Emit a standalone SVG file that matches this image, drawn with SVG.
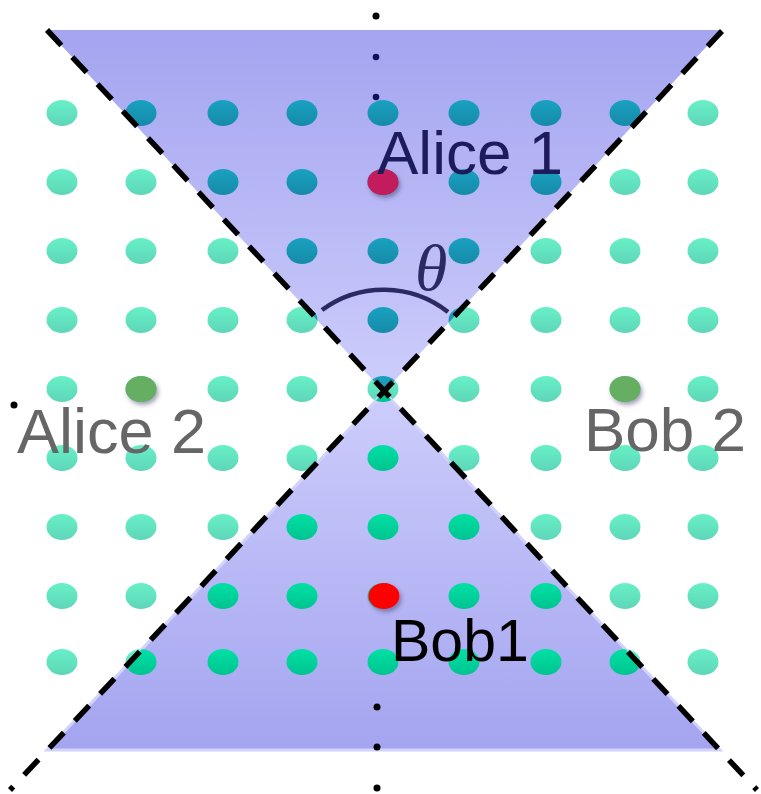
<svg xmlns="http://www.w3.org/2000/svg" xmlns:xlink="http://www.w3.org/1999/xlink" width="761" height="794" viewBox="0 0 761 794">
<style>
.lbl{font-family:"Liberation Sans",Arial,sans-serif;font-size:62px}
.dash{fill:none;stroke:#000;stroke-width:5.5;stroke-dasharray:21 16}
.pt{stroke:none}
</style>
<defs>
<linearGradient id="gUp" x1="0" y1="30" x2="0" y2="392" gradientUnits="userSpaceOnUse"><stop offset="0" stop-color="#a4a4f0"/><stop offset="1" stop-color="#cdcdfc"/></linearGradient>
<linearGradient id="gDown" x1="0" y1="392" x2="0" y2="750" gradientUnits="userSpaceOnUse"><stop offset="0" stop-color="#cdcdfc"/><stop offset="1" stop-color="#a4a4f0"/></linearGradient>
<linearGradient id="mint" x1="0" y1="0" x2="0" y2="1"><stop offset="0" stop-color="#68f0c8"/><stop offset="1" stop-color="#5ed6b8"/></linearGradient>
<linearGradient id="teal" x1="0" y1="0" x2="0" y2="1"><stop offset="0" stop-color="#18a2c0"/><stop offset="1" stop-color="#168aa8"/></linearGradient>
<linearGradient id="green" x1="0" y1="0" x2="0" y2="1"><stop offset="0" stop-color="#00e0a4"/><stop offset="1" stop-color="#00c490"/></linearGradient>
<clipPath id="cUp"><polygon points="47,30 722,30 384,392"/></clipPath>
<clipPath id="cDown"><polygon points="384,392 720,750 47,750"/></clipPath>
<filter id="sh" x="-50%" y="-50%" width="200%" height="200%"><feDropShadow dx="2" dy="3" stdDeviation="2" flood-color="#303060" flood-opacity="0.45"/></filter>
<g id="dots">
<ellipse cx="62" cy="113" rx="15.5" ry="13"/><ellipse cx="141" cy="113" rx="15.5" ry="13"/><ellipse cx="223" cy="113" rx="15.5" ry="13"/><ellipse cx="302" cy="113" rx="15.5" ry="13"/><ellipse cx="383" cy="113" rx="15.5" ry="13"/><ellipse cx="464" cy="113" rx="15.5" ry="13"/><ellipse cx="546" cy="113" rx="15.5" ry="13"/><ellipse cx="625" cy="113" rx="15.5" ry="13"/><ellipse cx="703" cy="113" rx="15.5" ry="13"/>
<ellipse cx="62" cy="182" rx="15.5" ry="13"/><ellipse cx="141" cy="182" rx="15.5" ry="13"/><ellipse cx="223" cy="182" rx="15.5" ry="13"/><ellipse cx="302" cy="182" rx="15.5" ry="13"/><ellipse cx="383" cy="182" rx="15.5" ry="13"/><ellipse cx="464" cy="182" rx="15.5" ry="13"/><ellipse cx="546" cy="182" rx="15.5" ry="13"/><ellipse cx="625" cy="182" rx="15.5" ry="13"/><ellipse cx="703" cy="182" rx="15.5" ry="13"/>
<ellipse cx="62" cy="251" rx="15.5" ry="13"/><ellipse cx="141" cy="251" rx="15.5" ry="13"/><ellipse cx="223" cy="251" rx="15.5" ry="13"/><ellipse cx="302" cy="251" rx="15.5" ry="13"/><ellipse cx="383" cy="251" rx="15.5" ry="13"/><ellipse cx="464" cy="251" rx="15.5" ry="13"/><ellipse cx="546" cy="251" rx="15.5" ry="13"/><ellipse cx="625" cy="251" rx="15.5" ry="13"/><ellipse cx="703" cy="251" rx="15.5" ry="13"/>
<ellipse cx="62" cy="320" rx="15.5" ry="13"/><ellipse cx="141" cy="320" rx="15.5" ry="13"/><ellipse cx="223" cy="320" rx="15.5" ry="13"/><ellipse cx="302" cy="320" rx="15.5" ry="13"/><ellipse cx="383" cy="320" rx="15.5" ry="13"/><ellipse cx="464" cy="320" rx="15.5" ry="13"/><ellipse cx="546" cy="320" rx="15.5" ry="13"/><ellipse cx="625" cy="320" rx="15.5" ry="13"/><ellipse cx="703" cy="320" rx="15.5" ry="13"/>
<ellipse cx="62" cy="389" rx="15.5" ry="13"/><ellipse cx="141" cy="389" rx="15.5" ry="13"/><ellipse cx="223" cy="389" rx="15.5" ry="13"/><ellipse cx="302" cy="389" rx="15.5" ry="13"/><ellipse cx="383" cy="389" rx="15.5" ry="13"/><ellipse cx="464" cy="389" rx="15.5" ry="13"/><ellipse cx="546" cy="389" rx="15.5" ry="13"/><ellipse cx="625" cy="389" rx="15.5" ry="13"/><ellipse cx="703" cy="389" rx="15.5" ry="13"/>
<ellipse cx="62" cy="458" rx="15.5" ry="13"/><ellipse cx="141" cy="458" rx="15.5" ry="13"/><ellipse cx="223" cy="458" rx="15.5" ry="13"/><ellipse cx="302" cy="458" rx="15.5" ry="13"/><ellipse cx="383" cy="458" rx="15.5" ry="13"/><ellipse cx="464" cy="458" rx="15.5" ry="13"/><ellipse cx="546" cy="458" rx="15.5" ry="13"/><ellipse cx="625" cy="458" rx="15.5" ry="13"/><ellipse cx="703" cy="458" rx="15.5" ry="13"/>
<ellipse cx="62" cy="527" rx="15.5" ry="13"/><ellipse cx="141" cy="527" rx="15.5" ry="13"/><ellipse cx="223" cy="527" rx="15.5" ry="13"/><ellipse cx="302" cy="527" rx="15.5" ry="13"/><ellipse cx="383" cy="527" rx="15.5" ry="13"/><ellipse cx="464" cy="527" rx="15.5" ry="13"/><ellipse cx="546" cy="527" rx="15.5" ry="13"/><ellipse cx="625" cy="527" rx="15.5" ry="13"/><ellipse cx="703" cy="527" rx="15.5" ry="13"/>
<ellipse cx="62" cy="596" rx="15.5" ry="13"/><ellipse cx="141" cy="596" rx="15.5" ry="13"/><ellipse cx="223" cy="596" rx="15.5" ry="13"/><ellipse cx="302" cy="596" rx="15.5" ry="13"/><ellipse cx="383" cy="596" rx="15.5" ry="13"/><ellipse cx="464" cy="596" rx="15.5" ry="13"/><ellipse cx="546" cy="596" rx="15.5" ry="13"/><ellipse cx="625" cy="596" rx="15.5" ry="13"/><ellipse cx="703" cy="596" rx="15.5" ry="13"/>
<ellipse cx="62" cy="662" rx="15.5" ry="13"/><ellipse cx="141" cy="662" rx="15.5" ry="13"/><ellipse cx="223" cy="662" rx="15.5" ry="13"/><ellipse cx="302" cy="662" rx="15.5" ry="13"/><ellipse cx="383" cy="662" rx="15.5" ry="13"/><ellipse cx="464" cy="662" rx="15.5" ry="13"/><ellipse cx="546" cy="662" rx="15.5" ry="13"/><ellipse cx="625" cy="662" rx="15.5" ry="13"/><ellipse cx="703" cy="662" rx="15.5" ry="13"/>
</g>
</defs>
<rect width="761" height="794" fill="#fff"/>
<g id="grid-outside"><use xlink:href="#dots" href="#dots" fill="url(#mint)"/></g>
<g id="cone-future"><polygon points="47,30 722,30 384,392" fill="url(#gUp)"/><use xlink:href="#dots" href="#dots" fill="url(#teal)" clip-path="url(#cUp)"/></g>
<g id="cone-past"><polygon points="384,392 720,750 47,750" fill="url(#gDown)" stroke="#d2d2fb" stroke-width="3"/><use xlink:href="#dots" href="#dots" fill="url(#green)" clip-path="url(#cDown)"/></g>
<g id="ellipsis" fill="#000">
<circle cx="376" cy="16" r="3.5"/><circle cx="376" cy="57" r="3.3" fill="#12105a"/><circle cx="376" cy="97" r="3.3" fill="#12105a"/>
<circle cx="377" cy="707" r="3.5"/><circle cx="377" cy="747" r="3.5"/><circle cx="377" cy="788" r="3.5"/>
<circle cx="14" cy="405" r="3.5"/>
</g>
<g id="connectors">
<line class="dash" x1="47" y1="30" x2="757" y2="790"/>
<line class="dash" x1="722" y1="31" x2="10" y2="790"/>
<path d="M322 310 A104 104 0 0 1 448 312" fill="none" stroke="#2b2a62" stroke-width="4.5"/>
</g>
<g id="alice1"><ellipse class="pt" cx="383" cy="182" rx="15.5" ry="13" fill="#c21a5c" filter="url(#sh)"/><text class="lbl" x="377" y="174" fill="#1e1b5c">Alice 1</text></g>
<g id="alice2"><ellipse class="pt" cx="141" cy="389" rx="15.5" ry="13" fill="#66ae62" filter="url(#sh)"/><text class="lbl" x="17" y="453" fill="#666666" style="font-size:63px">Alice 2</text></g>
<g id="bob2"><ellipse class="pt" cx="625" cy="389" rx="15.5" ry="13" fill="#66ae62" filter="url(#sh)"/><text class="lbl" x="584" y="451" fill="#666666">Bob 2</text></g>
<g id="bob1"><ellipse class="pt" cx="384" cy="596" rx="15.5" ry="13" fill="#ff0000" filter="url(#sh)"/><text class="lbl" x="391" y="661" fill="#000" style="font-size:59px">Bob1</text></g>
<g id="theta"><text x="415" y="290" font-family="Liberation Serif,Times New Roman,serif" font-style="italic" font-size="66" fill="#2b2a62">θ</text></g>
</svg>
